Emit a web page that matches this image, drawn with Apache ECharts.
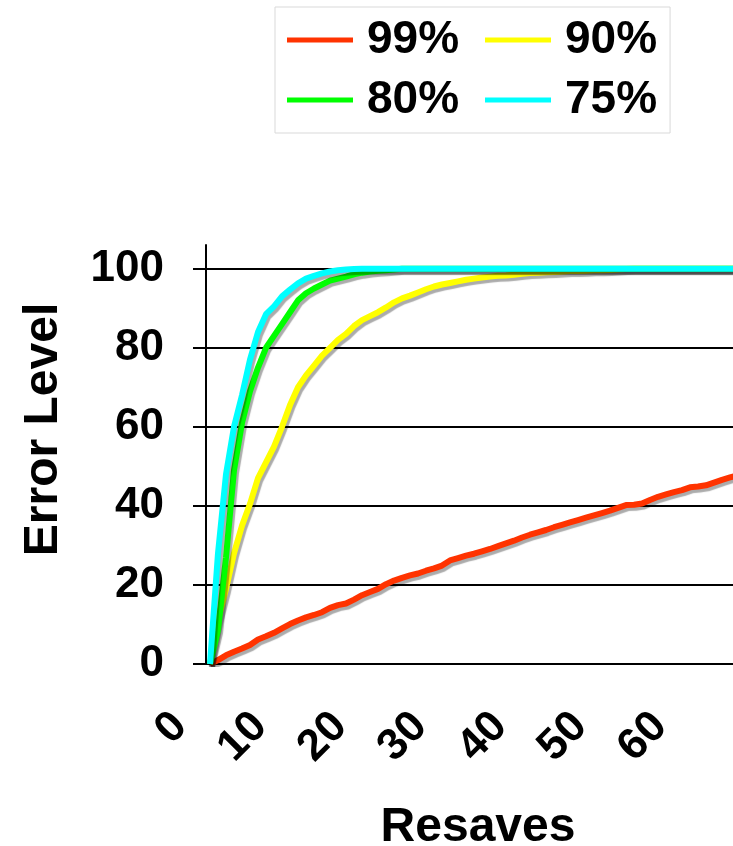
<!DOCTYPE html>
<html><head><meta charset="utf-8">
<script src="https://cdn.jsdelivr.net/npm/echarts@6/dist/echarts.min.js"></script>
<style>html,body{margin:0;padding:0;background:#fff}#c{width:733px;height:846px}</style>
</head><body><div id="c"></div>
<script>
const resaves = [0,1,2,3,4,5,6,7,8,9,10,11,12,13,14,15,16,17,18,19,20,21,22,23,24,25,26,27,28,29,30,31,32,33,34,35,36,37,38,39,40,41,42,43,44,45,46,47,48,49,50,51,52,53,54,55,56,57,58,59,60,61,62,63,64,65,66,67];
const seriesNames = ['99%', '90%', '80%', '75%'];
const legendCol1 = ['99%', '80%'];
const legendCol2 = ['90%', '75%'];
const err99 = [0,1.0,2.2,3.1,3.9,4.8,6.2,7.0,7.9,9.0,
  10.1,11.0,11.8,12.4,13.1,14.2,14.9,15.3,16.3,17.4,
  18.2,19.0,20.2,21.1,21.8,22.4,22.9,23.6,24.2,24.9,
  26.2,26.8,27.4,27.9,28.5,29.1,29.8,30.5,31.2,32.0,
  32.7,33.3,33.9,34.6,35.2,35.8,36.4,37.0,37.6,38.2,
  38.8,39.5,40.2,40.3,40.6,41.5,42.3,42.9,43.5,44.0,
  44.7,44.9,45.2,45.9,46.6,47.2,47.8,48.4];
const err90 = [0,11,19,28,35,40.5,47,51,55,60,
  65.5,70,73,75.5,78,80,82,83.5,85.5,87,
  88,89,90.2,91.5,92.5,93.2,94,94.8,95.5,96,
  96.4,96.8,97.2,97.5,97.8,98,98.2,98.3,98.5,98.7,
  98.9,99,99.1,99.2,99.3,99.4,99.4,99.5,99.6,99.6,
  99.7,99.8,99.9,100,100,100,100,100,100,100,
  100,100,100,100,100,100,100,100];
const err80 = [0,8.5,27,49,61,69,75,80,83,86,
  89,92,93.8,95,96,97,97.5,98,98.6,99,
  99.3,99.5,99.6,99.8,100,100,100,100,100,100,
  100,100,100,100,100,100,100,100,100,100,
  100,100,100,100,100,100,100,100,100,100,
  100,100,100,100,100,100,100,100,100,100,
  100,100,100,100,100,100,100,100];
const err75 = [0,28,48,60,68,77,84,88.5,90.5,93,
  94.7,96.3,97.5,98.2,98.8,99.3,99.6,99.8,99.9,100,
  100,100,100,100,100,100,100,100,100,100,
  100,100,100,100,100,100,100,100,100,100,
  100,100,100,100,100,100,100,100,100,100,
  100,100,100,100,100,100,100,100,100,100,
  100,100,100,100,100,100,100,100];
const yTicks = [0, 20, 40, 60, 80, 100];
const xLabelEvery = 10;
const colors = ['#ff3300', '#ffff00', '#00ff00', '#00ffff'];

const FONT = '"Liberation Sans", Arial, Helvetica, sans-serif';
const chart = echarts.init(document.getElementById('c'), null, {renderer: 'canvas'});
const seriesData = [err99, err90, err80, err75];
const lineSeries = seriesData.map((d, i) => ({
  name: seriesNames[i], type: 'line', data: d, symbol: 'none', smooth: false,
  color: colors[i],
  lineStyle: {width: 6, color: colors[i], shadowColor: 'rgba(0,0,0,0.33)', shadowBlur: 1, shadowOffsetX: 2, shadowOffsetY: 3},
  emphasis: {disabled: true}, z: 2 + i
}));
const legendText = {fontSize: 46, fontWeight: 'bold', color: '#000', fontFamily: FONT, padding: [0, 0, 0, 9]};
const option = {
  animation: false,
  backgroundColor: '#fff',
  textStyle: {fontFamily: FONT},
  legend: [{
    left: 275, top: 7, orient: 'vertical', padding: [10, 211, 10, 12],
    borderColor: '#d9d9d9', borderWidth: 1, itemGap: 14, itemWidth: 66, itemHeight: 5,
    icon: 'rect', selectedMode: false, textStyle: legendText, data: legendCol1
  }, {
    left: 485, top: 7, orient: 'vertical', padding: [10, 0, 10, 0],
    itemGap: 14, itemWidth: 66, itemHeight: 5,
    icon: 'rect', selectedMode: false, textStyle: legendText, data: legendCol2
  }],
  grid: {left: 206, right: -17, top: 245, bottom: 182, containLabel: false, outerBoundsMode: 'none'},
  xAxis: {
    type: 'category', data: resaves, boundaryGap: true,
    name: 'Resaves', nameLocation: 'middle', nameGap: 140,
    nameTextStyle: {fontSize: 48, fontWeight: 'bold', color: '#000', fontFamily: FONT},
    axisLine: {lineStyle: {color: '#000', width: 2}},
    axisTick: {interval: 0, length: 13, lineStyle: {color: '#000', width: 2}},
    axisLabel: {interval: xLabelEvery - 1, rotate: 45, margin: 26, padding: [0, 42, 0, 0],
      fontSize: 44, fontWeight: 'bold', color: '#000', fontFamily: FONT},
    splitLine: {show: false}
  },
  yAxis: {
    type: 'value', min: 0, max: 106, interval: 20,
    name: 'Error Level', nameLocation: 'middle', nameRotate: 90, nameGap: 138,
    nameTextStyle: {fontSize: 48, fontWeight: 'bold', color: '#000', fontFamily: FONT, padding: [0, 0, 0, 50]},
    axisLine: {show: true, lineStyle: {color: '#000', width: 2}},
    axisTick: {show: true, length: 13, customValues: yTicks, lineStyle: {color: '#000', width: 2}},
    axisLabel: {customValues: yTicks, margin: 42, fontSize: 44, fontWeight: 'bold', color: '#000', fontFamily: FONT},
    splitLine: {show: true, lineStyle: {color: ['#000', '#000', '#000', '#000', '#000', '#000', 'rgba(0,0,0,0)'], width: 2}}
  },
  series: lineSeries
};
chart.setOption(option);
</script>
</body></html>
